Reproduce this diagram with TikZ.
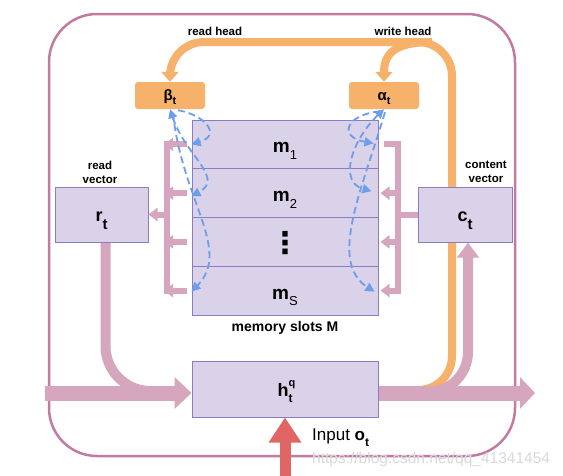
\documentclass[tikz,border=0pt]{standalone}
\usepackage{fontspec}
\setmainfont{Liberation Sans}
\newfontfamily\dejavu{DejaVu Sans}
\usetikzlibrary{arrows.meta,calc}
\pgfdeclarelayer{bg}
\pgfsetlayers{bg,main}
\definecolor{memfill}{HTML}{D9D2E9}
\definecolor{memdraw}{HTML}{8E7CC3}
\definecolor{orng}{HTML}{F6B26B}
\definecolor{pnk}{HTML}{D5A6BD}
\definecolor{outerc}{HTML}{C27BA0}
\definecolor{blu}{HTML}{6D9EEB}
\definecolor{redc}{HTML}{E06666}
\newcommand\lsb[3]{\raisebox{-#1}{\fontsize{#2}{#2}\selectfont #3}}
\begin{document}
\begin{tikzpicture}[x=1pt,y=-1pt,
  membox/.style={draw=memdraw, fill=memfill, line width=1pt, inner sep=0pt, minimum width=186pt, minimum height=48.75pt},
  headbox/.style={fill=orng, rounded corners=3pt, minimum width=70pt, minimum height=27pt, inner sep=0pt},
  lbl/.style={font=\bfseries\fontsize{11.5}{14}\selectfont, align=center, inner sep=0pt},
  sym/.style={anchor=base, inner sep=0pt, font=\bfseries\fontsize{19}{19}\selectfont},
  orangeline/.style={draw=orng, line width=8pt},
  otip/.style={-{Triangle[width=17pt,length=10pt]}},
  comb/.style={draw=pnk, line width=6pt},
  combtip/.style={-{Triangle[width=13pt,length=9pt]}},
  bluedash/.style={draw=blu, line width=1.8pt, dash pattern=on 7pt off 4pt, -{Triangle[width=9pt,length=9pt]}},
  bluboth/.style={{Triangle[width=9pt,length=9pt]}-{Triangle[width=9pt,length=9pt]}}
]
\useasboundingbox (0,0) rectangle (563,475);

% memory slots
\node[membox] (m1) at (285,144.375) {};
\node[membox] (m2) at (285,193.125) {};
\node[membox] (m3) at (285,241.875) {};
\node[membox] (m4) at (285,290.625) {};
% other boxes
\node[membox, minimum height=56pt] (h) at (285,389) {};
\node[membox, minimum width=93pt, minimum height=55pt] (r) at (101.5,214.5) {};
\node[membox, minimum width=94pt, minimum height=55pt] (c) at (465,214.5) {};
\node[headbox] (beta) at (170,95.5) {};
\node[headbox] (alpha) at (384,95.5) {};

\coordinate (inL) at (45,393);
\coordinate (outR) at (535,393);
\coordinate (inB) at (285,476);
\coordinate (otr) at (452,42);
\coordinate (lb) at (167,0);
\coordinate (rb) at (398,0);

\begin{pgfonlayer}{bg}
  \fill[white] (0,0) rectangle (563,475);
  \draw[draw=outerc, line width=2.5pt, rounded corners=48pt] (49,14) rectangle (515,456);
  % read / write head
  \draw[orangeline, otip, rounded corners=34pt] ([yshift=-1pt]h.east) -- (otr |- 0,390) -- (otr) -- (beta.north |- otr) -- (beta.north);
  \draw[orangeline, otip] (432,42) .. controls (393,42) and (384,55) .. (alpha.north);
  % big pink flows
  \draw[draw=pnk, line width=10pt, rounded corners=45pt] ([xshift=4pt]r.south) -- (105.5,391) -- (178,391);
  \draw[draw=pnk, line width=15pt, -{Triangle[width=31pt,length=17pt]}] (inL) -- ([yshift=-4pt]h.west);
  \draw[draw=pnk, line width=15pt, -{Triangle[width=31pt,length=15pt]}] ([yshift=-4pt]h.east) -- (outR);
  \draw[draw=pnk, line width=10pt, rounded corners=40pt, -{Triangle[width=21pt,length=15pt]}] (395,392) -- (468,392) -- ([xshift=3pt]c.south);
  % input
  \draw[draw=redc, line width=11pt, -{Triangle[width=31pt,length=25pt]}] (inB) -- (h.south);
\end{pgfonlayer}

% read combs (left)
\draw[comb, line cap=rect] (lb |- m1.west) -- (lb |- m4.west);
\foreach \m in {m1,m2,m3,m4}{
  \draw[comb, combtip] ($(\m.west)+(-5,0)$) -- ($(lb |- \m.west)+(-3,0)$);
}
\draw[comb, combtip] (lb |- r.east) -- (r.east);
% write combs (right)
\draw[comb, line cap=rect] (rb |- m1.east) -- (rb |- m4.east);
\draw[comb] (rb |- m1.east) -- ($(m1.east)+(5,0)$);
\foreach \m in {m2,m3,m4}{
  \draw[comb, combtip] (rb |- \m.east) -- ($(\m.east)+(2,0)$);
}
\draw[comb] (c.west) -- (rb |- c.west);

% blue dashed attention curves
\draw[bluedash] ($(beta.south)+(8,1)$) .. controls (205,115) and (222,135) .. (m1.west);
\draw[bluedash, bluboth] (beta.south) .. controls (185,155) and (225,178) .. ($(m2.west)+(0,3)$);
\draw[bluedash] ($(beta.south)+(3,4)$) .. controls (182,200) and (232,250) .. ($(m4.west)+(0,1)$);
\draw[bluedash] ($(alpha.south)+(-4,2)$) .. controls (345,115) and (338,137) .. ($(m1.east)+(-5,-1)$);
\draw[bluedash, bluboth] (alpha.south) .. controls (352,140) and (338,182) .. ($(m2.east)+(-7,-2)$);
\draw[bluedash] ($(alpha.south)+(1,3)$) .. controls (362,190) and (328,262) .. ($(m4.east)+(-4,1)$);

% labels
\node[sym] (t1) at ($(m1.center)+(0,8.5)$) {m\lsb{6.7pt}{13}{\mdseries 1}};
\node[sym] (t2) at ($(m2.center)+(0,8.5)$) {m\lsb{6.7pt}{13}{\mdseries 2}};
\node[inner sep=0pt, font=\dejavu\bfseries\fontsize{30}{30}\selectfont] (t3) at ($(m3.center)+(0,1)$) {⋮};
\node[sym] (t4) at ($(m4.center)+(0,8.5)$) {m\lsb{6.7pt}{13}{\mdseries S}};
\node[sym, font=\bfseries\fontsize{18}{18}\selectfont] (tr) at ($(r.center)+(0,6.5)$) {r\lsb{8.5pt}{15}{t}};
\node[sym, font=\bfseries\fontsize{18}{18}\selectfont] (tc) at ($(c.center)+(0,6.5)$) {c\lsb{8.5pt}{15}{t}};
\node[sym, font=\bfseries\fontsize{18}{18}\selectfont] (th) at ($(h.center)+(0,7)$) {h\rlap{\raisebox{10pt}{\fontsize{11}{11}\selectfont q}}\lsb{6pt}{12}{t}};
\node[sym, font=\bfseries\fontsize{15}{15}\selectfont] (tb) at ($(beta.center)+(0,4.5)$) {β\lsb{4.5pt}{11}{t}};
\node[sym, font=\bfseries\fontsize{15}{15}\selectfont] (ta) at ($(alpha.center)+(0,4.5)$) {α\lsb{4.5pt}{11}{t}};

\node[lbl, anchor=base] (rhl) at (215,35.5) {read head};
\node[lbl, anchor=base] (whl) at (403,35.5) {write head};
\node[lbl] (rvl) at (100,172) {read\\vector};
\node[lbl] (cvl) at (486,171.5) {content\\vector};
\node[lbl, anchor=base, font=\bfseries\fontsize{14}{14}\selectfont] (msl) at (285,331) {memory slots M};
\node[anchor=base west, inner sep=0pt, font=\fontsize{17}{17}\selectfont] (inl) at (312,440) {Input \textbf{o}\lsb{6pt}{12}{\bfseries t}};
\node[anchor=base west, inner sep=0pt, text=gray!30, font=\fontsize{15.5}{15.5}\selectfont] (wm) at (312,463) {https://blog.csdn.net/qq\_41341454};
\end{tikzpicture}
\end{document}
